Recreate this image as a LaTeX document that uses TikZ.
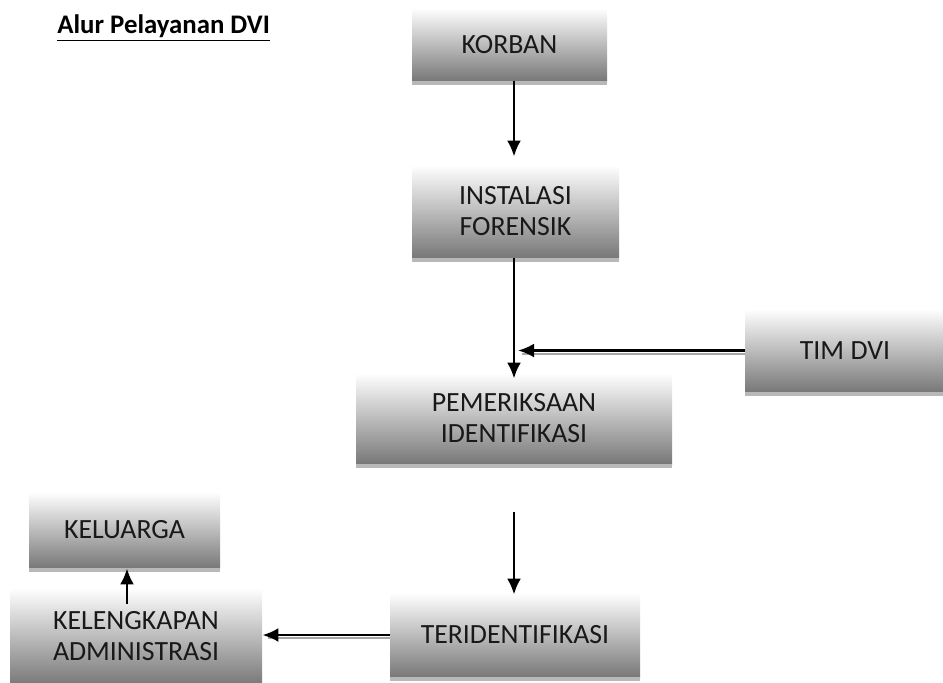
\documentclass[tikz,border=0pt]{standalone}
\usepackage{fontspec}
\setmainfont{Carlito}
\usetikzlibrary{arrows.meta,positioning}

\begin{document}
\begin{tikzpicture}[x=0.5pt,y=-0.5pt]
\tikzstyle{box}=[rectangle, inner sep=0pt, align=center, top color=white, bottom color=black!53, text=black!90, font=\fontsize{13.9}{15.5}\selectfont]
\tikzstyle{strip}=[fill=black!28]
\tikzstyle{connect}=[-{Latex[length=8pt,width=7pt]}, line width=1.4pt]
\tikzstyle{shadow}=[black!35, line width=1pt]
\useasboundingbox (0,0) rectangle (943,682);
\node[anchor=base west, inner sep=0pt, font=\fontsize{13.4}{15}\selectfont\bfseries] (title) at (57,33) {\underline{Alur Pelayanan\ DVI}};
\node[box, minimum width=97.5pt, minimum height=36.5pt] (korban) at (509.5,44.5) {KORBAN};
\node[box, minimum width=103.5pt, minimum height=46.5pt] (instalasi) at (515.5,211.5) {INSTALASI\\FORENSIK};
\node[box, minimum width=100pt, minimum height=41.5pt] (timdvi) at (845,350.5) {TIM DVI};
\node[box, minimum width=158pt, minimum height=45.5pt] (pemeriksaan) at (514,418.5) {PEMERIKSAAN\\IDENTIFIKASI};
\node[box, minimum width=125pt, minimum height=42pt] (teridentifikasi) at (515,635) {TERIDENTIFIKASI};
\node[box, minimum width=126pt, minimum height=48.5pt] (kelengkapan) at (136,636.5) {KELENGKAPAN\\ADMINISTRASI};
\node[box, minimum width=95.5pt, minimum height=38pt] (keluarga) at (124.5,530) {KELUARGA};
\foreach \n in {korban,instalasi,timdvi,pemeriksaan,teridentifikasi,keluarga}
  \fill[strip] (\n.south west) rectangle ([yshift=-2pt]\n.south east);
\coordinate (axis) at (514,0);
\coordinate (sideaxis) at (127,0);
% alur utama
\draw[connect, shorten >=4pt] (korban.south -| axis) -- (instalasi.north -| axis);
\draw[connect, shorten >=-3pt] (instalasi.south -| axis) -- (pemeriksaan.north -| axis);
\draw[shadow] ([yshift=-1.5pt]timdvi.west) -- ([xshift=4pt,yshift=-1.5pt]axis |- timdvi.west);
\draw[connect] (timdvi.west) -- ([xshift=2pt]axis |- timdvi.west);
\draw[connect, shorten <=24pt, shorten >=-1pt] (pemeriksaan.south -| axis) -- (teridentifikasi.north -| axis);
\draw[shadow] ([yshift=-1.5pt]teridentifikasi.west) -- ([xshift=3pt,yshift=-1.5pt]kelengkapan.east |- teridentifikasi.west);
\draw[connect] (teridentifikasi.west) -- (kelengkapan.east |- teridentifikasi.west);
% ke keluarga
\draw[connect] ([yshift=-8pt]kelengkapan.north -| sideaxis) -- (keluarga.south -| sideaxis);
\end{tikzpicture}
\end{document}
